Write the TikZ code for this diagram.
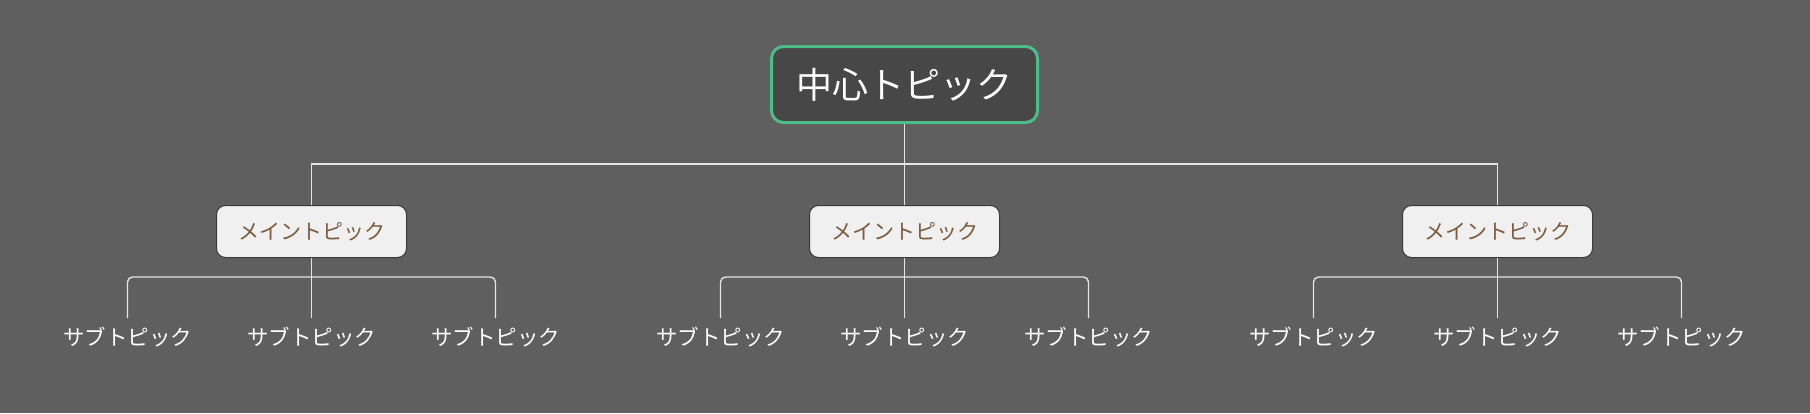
\documentclass[tikz,border=0pt]{standalone}
\usepackage{fontspec}
\newfontfamily\jp{Noto Sans CJK JP}
\definecolor{bg}{HTML}{5F5F5F}
\definecolor{cfill}{HTML}{474747}
\definecolor{cgreen}{HTML}{4DBD88}
\definecolor{mfill}{HTML}{F0F0F0}
\definecolor{mdraw}{HTML}{3A3A3A}
\definecolor{mtext}{HTML}{7A5C3E}
\definecolor{conncol}{HTML}{E4E4E4}
\tikzset{
  centerbox/.style={rounded corners=12pt, minimum width=266pt, minimum height=76pt, fill=cfill, draw=cgreen, line width=3pt, text=white, inner sep=0pt, font=\jp\fontsize{36}{40}\selectfont, text height=31.7pt, text depth=4.3pt},
  mainbox/.style={rounded corners=9pt, minimum width=190pt, minimum height=52pt, fill=mfill, draw=mdraw, line width=1pt, text=mtext, inner sep=0pt, font=\jp\fontsize{21}{24}\selectfont, text height=18.5pt, text depth=2.5pt},
  subbox/.style={text=white, inner xsep=0pt, inner ysep=8pt, font=\jp\fontsize{21.5}{24}\selectfont, text height=18.9pt, text depth=2.6pt},
  conn/.style={draw=conncol, line width=1.4pt},
}
\begin{document}
\begin{tikzpicture}[x=1pt,y=-1pt]
\fill[bg] (0,0) rectangle (1810,413);
\useasboundingbox (0,0) rectangle (1810,413);
\node[centerbox] (c) at (904.5,84.5) {中心トピック};
\node[mainbox] (m1) at (311.5,231.5) {メイントピック};
\node[mainbox] (m2) at (904.5,231.5) {メイントピック};
\node[mainbox] (m3) at (1497.5,231.5) {メイントピック};
\foreach \m/\x in {1/311.5,2/904.5,3/1497.5}{
  \node[subbox] (s\m a) at (\x-184,337) {サブトピック};
  \node[subbox] (s\m b) at (\x,337) {サブトピック};
  \node[subbox] (s\m c) at (\x+184,337) {サブトピック};
  \coordinate (j\m) at ([yshift=-19pt]m\m.south);
}
\draw[conn] (c.south) -- ++(0,40) -| (m1.north);
\draw[conn] (c.south) -- ++(0,40) -| (m3.north);
\draw[conn] (c.south) -- (m2.north);
\foreach \m in {1,2,3}{
  \draw[conn, rounded corners=5pt] (s\m a.north) |- (j\m) -| (s\m c.north);
  \draw[conn] (m\m.south) -- (s\m b.north);
}
\end{tikzpicture}
\end{document}
